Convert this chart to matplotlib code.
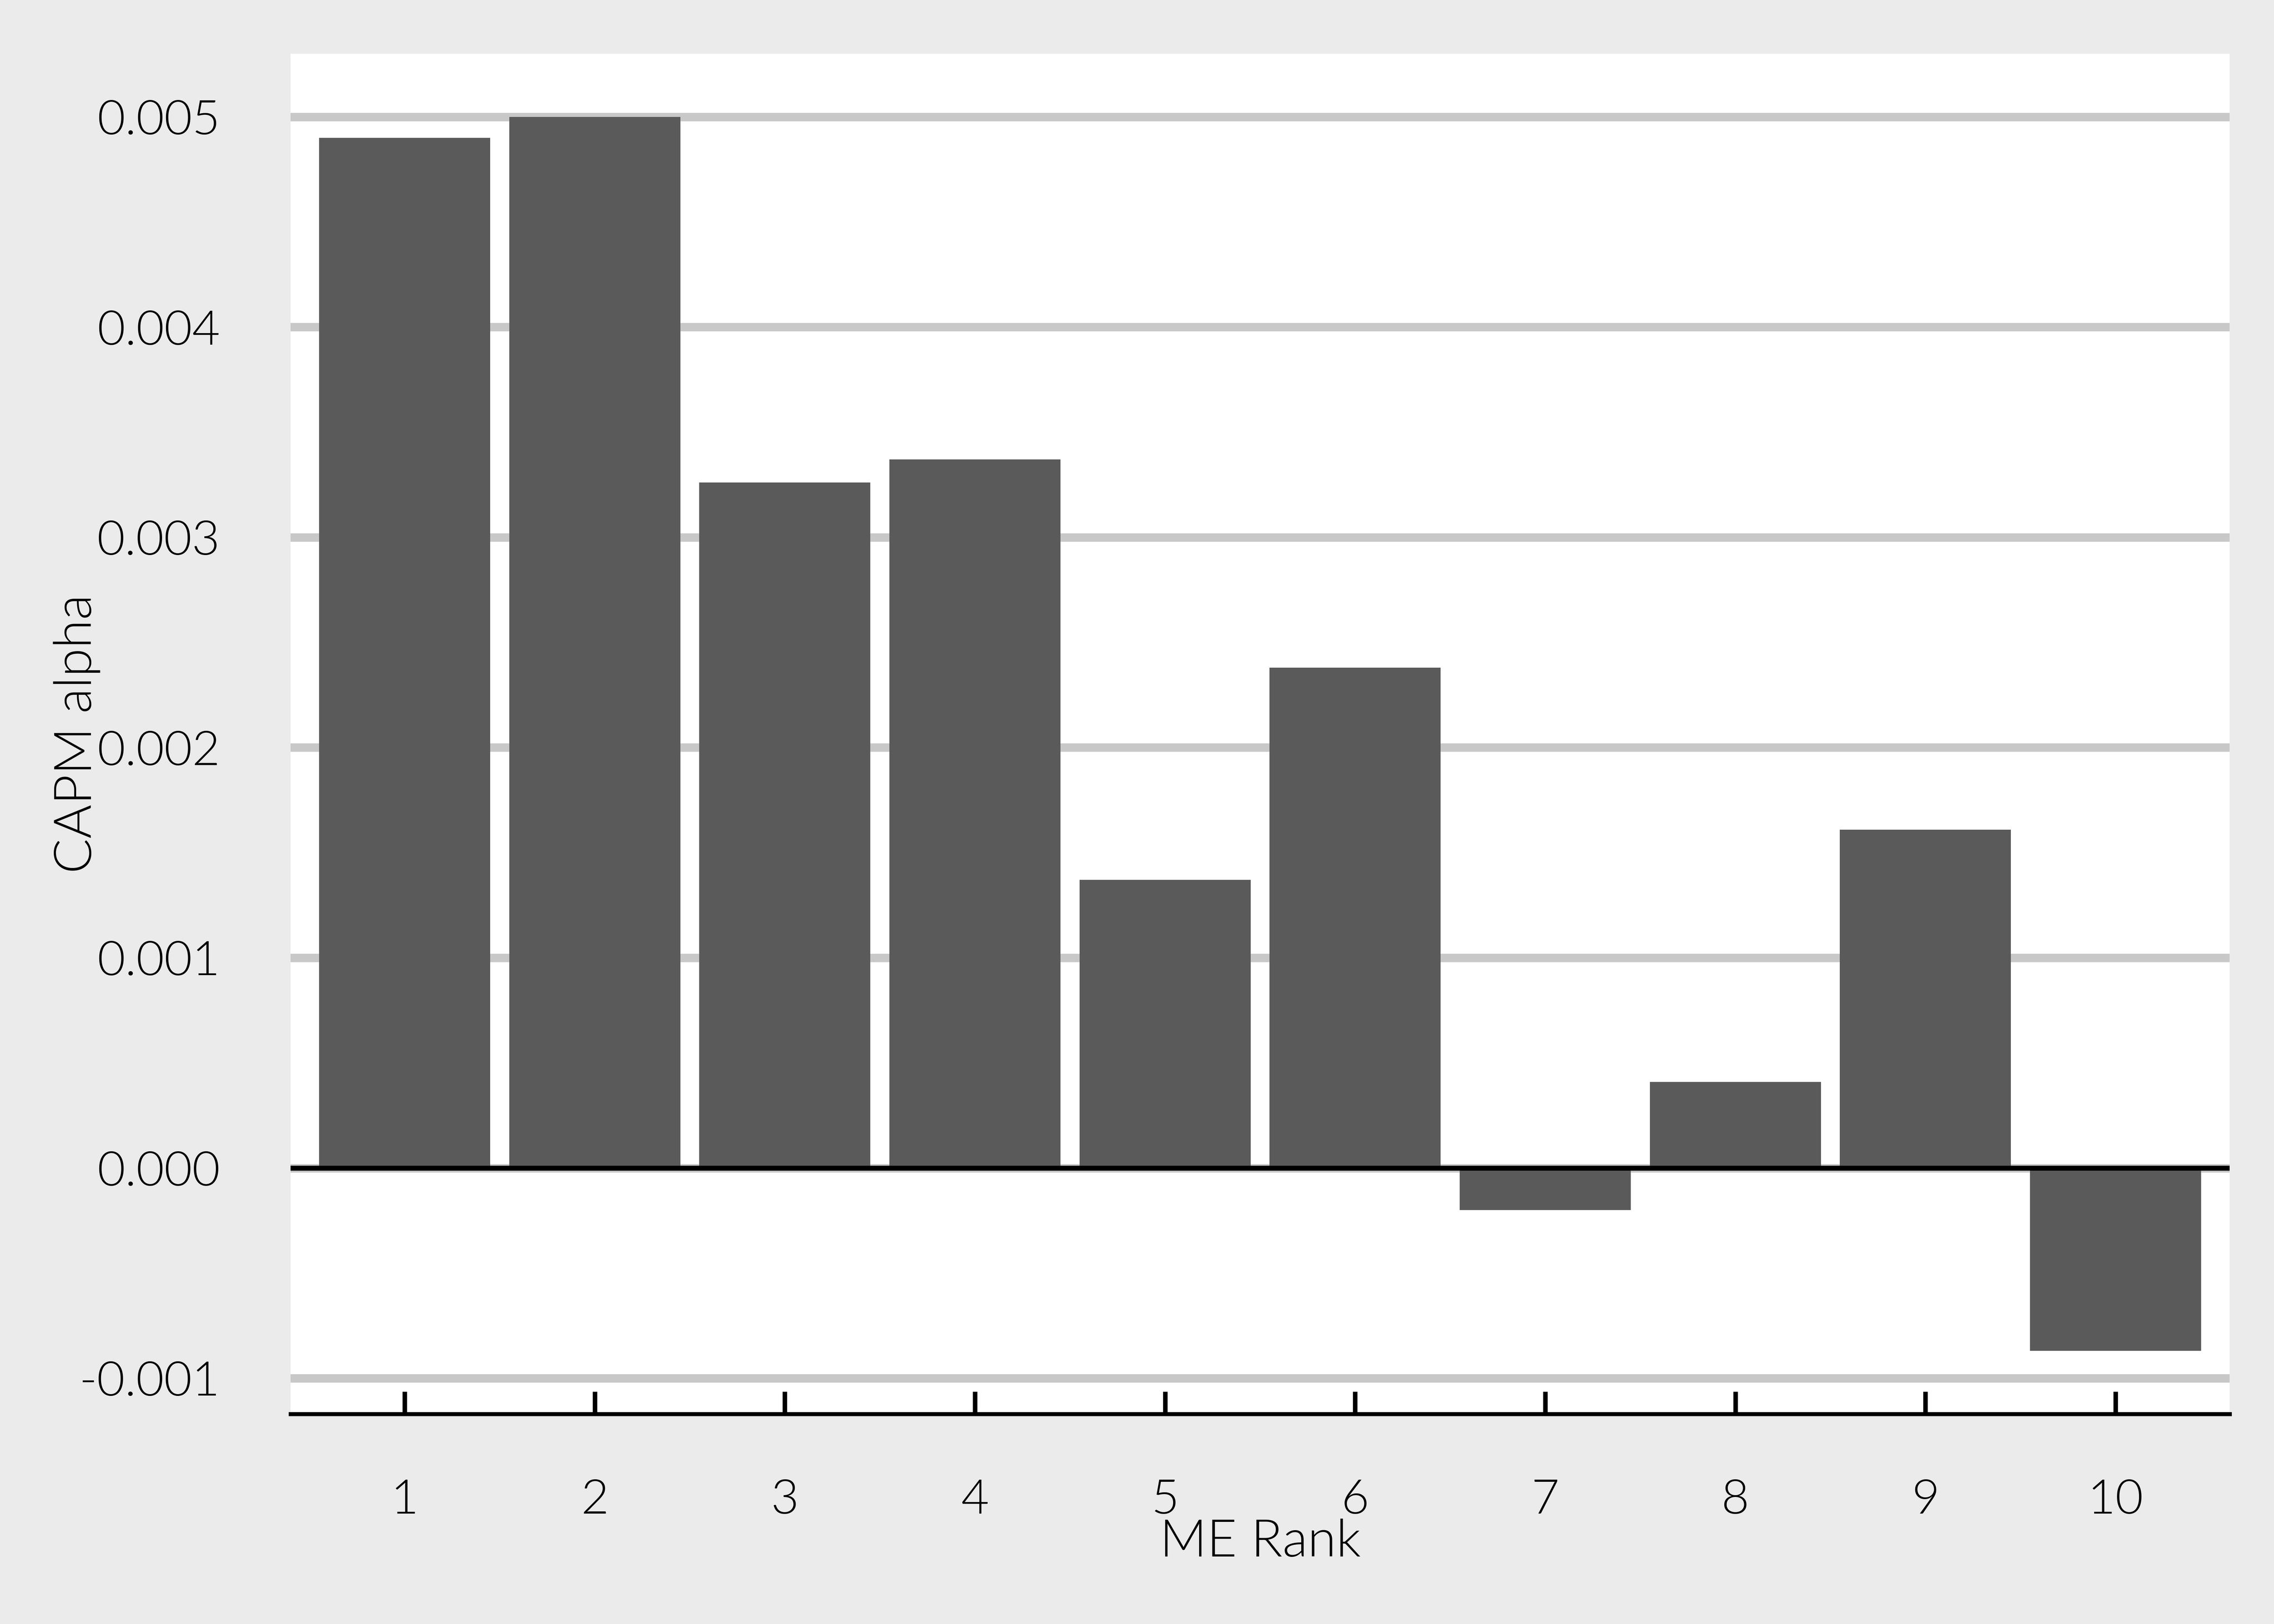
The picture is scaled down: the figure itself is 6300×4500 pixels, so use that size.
import matplotlib
matplotlib.use("Agg")
import matplotlib.pyplot as plt
from matplotlib import font_manager

ranks = [1, 2, 3, 4, 5, 6, 7, 8, 9, 10]
alpha = [0.00490, 0.00500, 0.00326, 0.00337, 0.00137, 0.00238,
         -0.00020, 0.00041, 0.00161, -0.00087]
yticks = [-0.001, 0.000, 0.001, 0.002, 0.003, 0.004, 0.005]
ytick_labels = ["-0.001", "0.000", "0.001", "0.002", "0.003", "0.004", "0.005"]

# pick the Lato Light file if there is one
light = None
for f in font_manager.fontManager.ttflist:
    if f.name == 'Lato' and f.weight == 300 and f.style == 'normal':
        light = f.fname
        break
if light:
    fp_tick = font_manager.FontProperties(fname=light, size=32)
    fp_lab = font_manager.FontProperties(fname=light, size=34.5)
else:
    fp_tick = font_manager.FontProperties(family='Lato', size=32)
    fp_lab = font_manager.FontProperties(family='Lato', size=34.5)

fig = plt.figure(figsize=(21, 15), dpi=300, facecolor='#ebebeb')
ax = fig.add_axes([0.1278, 0.1293, 0.8527, 0.8376])
ax.set_facecolor('white')

ax.bar(ranks, alpha, width=0.9, color='#5a5a5a', zorder=2)
for y in yticks:
    ax.axhline(y, color='#c8c8c8', lw=5.6, zorder=1)
ax.axhline(0, color='black', lw=3.3, zorder=3)

ax.set_xlim(0.4, 10.6)
ax.set_ylim(-0.00117, 0.0053)
ax.set_xticks(ranks)
ax.set_xticklabels([str(r) for r in ranks], fontproperties=fp_tick)
ax.set_yticks(yticks)
ax.set_yticklabels(ytick_labels, fontproperties=fp_tick)

for s in ['top', 'left', 'right']:
    ax.spines[s].set_visible(False)
ax.spines['bottom'].set_linewidth(2.7)
ax.spines['bottom'].set_zorder(4)

ax.tick_params(axis='x', direction='in', length=15, width=3, pad=43,
               colors='black')
ax.tick_params(axis='y', length=0, pad=47)

ax.set_xlabel('ME Rank', fontproperties=fp_lab)
ax.set_ylabel('CAPM alpha', fontproperties=fp_lab)
ax.xaxis.set_label_coords(0.5, -0.077)
ax.yaxis.set_label_coords(-0.098, 0.5)

plt.savefig('out.png', dpi=300, facecolor=fig.get_facecolor())
